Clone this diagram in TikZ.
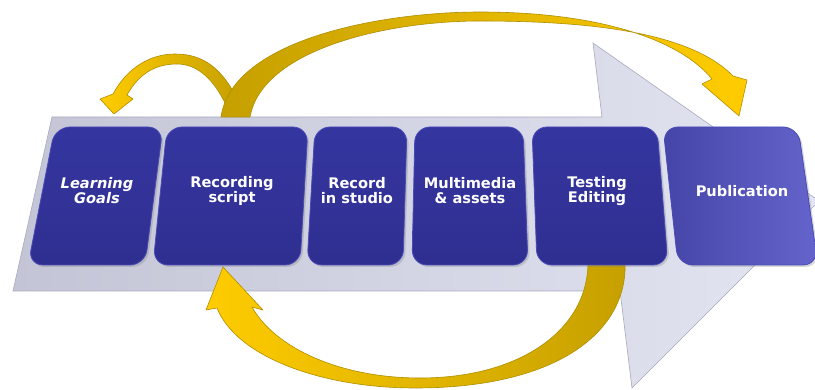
\documentclass[tikz,border=0pt]{standalone}
\usepackage{fontspec}
\setsansfont{DejaVu Sans}
\usepackage{tikz}
\usetikzlibrary{shadows}
\definecolor{navy}{HTML}{2F2F91}
\definecolor{navytop}{HTML}{3535A0}
\definecolor{rimblue}{HTML}{4A4AB8}
\definecolor{publeft}{HTML}{4545A8}
\definecolor{pubright}{HTML}{6464CC}
\definecolor{bandleft}{HTML}{C3C5D6}
\definecolor{bandright}{HTML}{E3E5F2}
\definecolor{bandline}{HTML}{A8AABF}
\definecolor{goldlight}{HTML}{FFCC00}
\definecolor{golddark}{HTML}{C6A000}
\definecolor{goldline}{HTML}{B08E00}
\tikzset{stage/.style={draw=rimblue,line width=0.8pt,top color=navytop,bottom
color=navy,rounded corners=15pt,drop shadow={opacity=0.3,shadow xshift=2pt,shadow
yshift=-2pt}},lbl/.style={text=white,align=center,font=\sffamily\bfseries\fontsize{14.6}{15}\selectfont},
ribbon/.style={draw=goldline,line width=0.6pt,line join=round}}

\begin{document}
\begin{tikzpicture}[x=1pt,y=-1pt]
		\useasboundingbox (0,0) rectangle (815,390);
		\begin{scope}
			\clip (0,0) rectangle (815,390);
			% big grey arrow
			\path[draw=bandline,line width=0.6pt,left color=bandleft,right color=bandright]
			(52,117) -- (602,117) -- (593,43) -- (819,201) -- (632,388) -- (620,291) -- (13,291) -- cycle;
			% loops
			\path[ribbon,left color=goldlight,right color=golddark]
			(237,98) .. controls (222,70) and (205,54) .. (175,54)
			.. controls (150,54) and (127,68) .. (113,94)
			-- (100,99) -- (114,114) -- (133,99) -- (127,95)
			.. controls (140,72) and (157,64) .. (177,64)
			.. controls (198,64) and (214,80) .. (226,105) -- cycle;
			\path[ribbon,left color=golddark,right color=goldlight]
			(221,117) .. controls (232,40) and (380,12) .. (480,12)
			.. controls (600,12) and (680,40) .. (712,79)
			-- (702,84) -- (739,116) -- (747,80) -- (733,76)
			.. controls (690,32) and (590,21) .. (480,21)
			.. controls (385,21) and (262,50) .. (250,117) -- cycle;
			\path[ribbon,left color=goldlight,right color=golddark]
			(625,262) .. controls (628,330) and (560,388) .. (415,388)
			.. controls (320,388) and (236,356) .. (217,308)
			-- (206,310) -- (223,267) -- (263,310) -- (252,307)
			.. controls (275,348) and (340,378) .. (420,378)
			.. controls (520,378) and (588,330) .. (588,262) -- cycle;
			% stages
			\path[stage] (55,127) -- (163,127) -- (145,265) -- (28,265) -- cycle;
			\path[stage] (167,127) -- (308,127) -- (300,265) -- (153,265) -- cycle;
			\path[stage] (315,127) -- (407,127) -- (403,265) -- (307,265) -- cycle;
			\path[stage] (415,127) -- (523,127) -- (528,265) -- (412,265) -- cycle;
			\path[stage] (532,127) -- (657,127) -- (668,265) -- (537,265) -- cycle;
			\path[stage,left color=publeft,right color=pubright] (663,127) -- (798,127) -- (818,265) -- (678,265) -- cycle;
		\end{scope}
		\node[lbl,font=\sffamily\bfseries\itshape\fontsize{14.6}{15}\selectfont] (goals) at (97,191) {Learning\\Goals};
		\node[lbl] (script) at (232,191) {Recording\\script};
		\node[lbl] (studio) at (357,191) {Record\\in studio};
		\node[lbl] (assets) at (470,191) {Multimedia\\\& assets};
		\node[lbl] (testing) at (597,191) {Testing\\Editing};
		\node[lbl] (publication) at (742,191) {Publication};
	\end{tikzpicture}
\end{document}
